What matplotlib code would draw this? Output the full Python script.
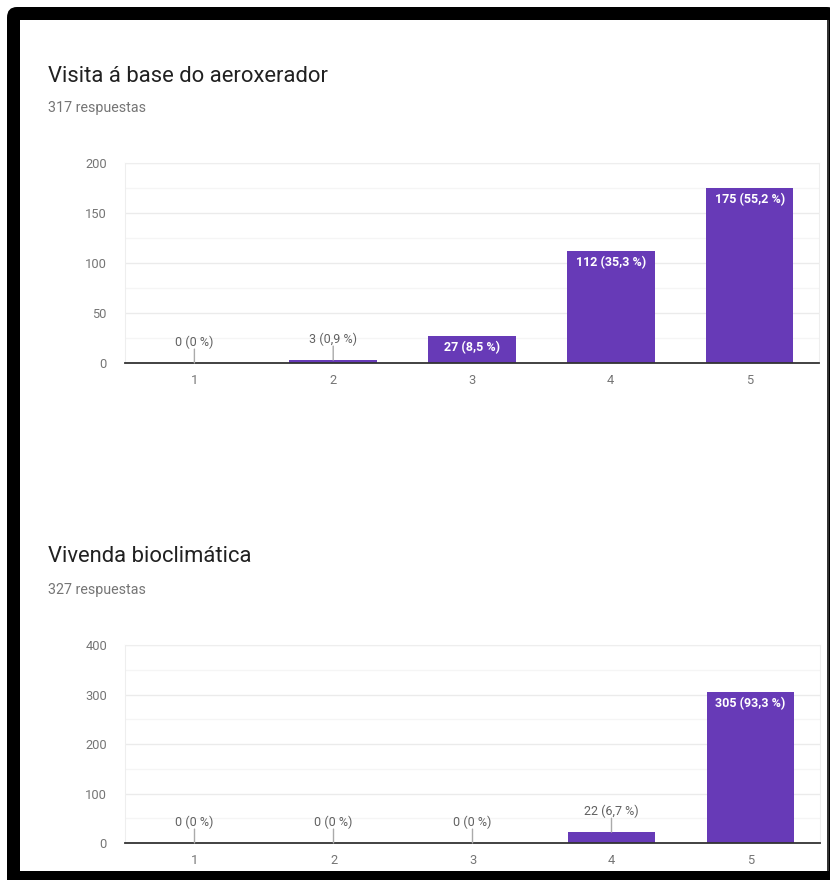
import matplotlib
matplotlib.use('Agg')
import matplotlib.pyplot as plt
from matplotlib.patches import Rectangle, FancyBboxPatch
import numpy as np

plt.rcParams['font.family'] = ['Roboto', 'DejaVu Sans']

categorias = ['1', '2', '3', '4', '5']

titulo1 = 'Visita á base do aeroxerador'
respostas1 = '317 respuestas'
valores1 = [0, 3, 27, 112, 175]
pct1 = ['0 %', '0,9 %', '8,5 %', '35,3 %', '55,2 %']
yticks1 = [0, 50, 100, 150, 200]

titulo2 = 'Vivenda bioclimática'
respostas2 = '327 respuestas'
valores2 = [0, 0, 0, 22, 305]
pct2 = ['0 %', '0 %', '0 %', '6,7 %', '93,3 %']
yticks2 = [0, 100, 200, 300, 400]

morado = '#673ab7'
W, H = 830, 880

fig = plt.figure(figsize=(W / 100, H / 100), dpi=100)
fig.patch.set_facecolor('white')

# marco negro
fig.patches.append(FancyBboxPatch((7 / W, -0.05), 1.0, 873 / H + 0.05,
                                  boxstyle='round,pad=0,rounding_size=0.012',
                                  transform=fig.transFigure, fc='black', ec='none', zorder=0))
fig.patches.append(Rectangle((20 / W, 9 / H), 807 / W, 851 / H, transform=fig.transFigure,
                             fc='white', ec='none', zorder=1))
fig.patches.append(Rectangle((827 / W, 9 / H), 2 / W, 851 / H, transform=fig.transFigure,
                             fc='#333333', ec='none', zorder=1))


def grafico(rect, valores, pct, yticks, titulo, respostas, ytit, yresp):
    ax = fig.add_axes(rect)
    ax.set_zorder(5)
    ax.patch.set_alpha(0)
    x = np.arange(1, len(valores) + 1)
    ymax = yticks[-1]
    bars = ax.bar(x, valores, 0.63, color=morado, zorder=3)
    ax.set_xlim(0.5, len(valores) + 0.5)
    ax.set_ylim(0, ymax)
    ax.set_yticks(yticks)
    ax.set_yticks(np.arange(0, ymax + 1, ymax / 8), minor=True)
    ax.set_xticks(x)
    ax.set_xticklabels(categorias)
    ax.grid(axis='y', which='major', color='#ebebeb', lw=1, zorder=0)
    ax.grid(axis='y', which='minor', color='#f5f5f5', lw=1, zorder=0)
    ax.tick_params(which='both', length=0, labelsize=9.3, labelcolor='#757575')
    ax.tick_params(axis='y', pad=13)
    ax.tick_params(axis='x', pad=8)
    for s in ['left', 'right', 'top']:
        ax.spines[s].set_color('#eeeeee')
    ax.spines['bottom'].set_color('#333333')
    ax.spines['bottom'].set_linewidth(1.3)
    ax.spines['bottom'].set_zorder(4)

    alto_px = rect[3] * H
    for b, v, p in zip(bars, valores, pct):
        xc = b.get_x() + b.get_width() / 2
        etiqueta = '%d (%s)' % (v, p)
        if v / ymax * alto_px > 20:
            ax.annotate(etiqueta, (xc, v), xytext=(0, -3.5), textcoords='offset points',
                        ha='center', va='top', color='white', fontsize=9,
                        fontweight='bold', zorder=5)
        else:
            ax.annotate('', (xc, v), xytext=(0, 10), textcoords='offset points',
                        arrowprops=dict(arrowstyle='-', color='#aaaaaa', lw=1,
                                        shrinkA=0, shrinkB=0), zorder=5)
            ax.annotate(etiqueta, (xc, v), xytext=(0, 10), textcoords='offset points',
                        ha='center', va='bottom', color='#616161', fontsize=9, zorder=5)

    fig.text(48 / W, 1 - ytit / H, titulo, fontsize=15.8, color='#212121', va='center')
    fig.text(48 / W, 1 - yresp / H, respostas, fontsize=10.3, color='#757575', va='center')


grafico([125 / W, 517 / H, 694 / W, 200 / H], valores1, pct1, yticks1,
        titulo1, respostas1, 77, 108)
grafico([125 / W, 37 / H, 695 / W, 198 / H], valores2, pct2, yticks2,
        titulo2, respostas2, 557, 590)

fig.savefig('out.png', dpi=100, facecolor=fig.get_facecolor())
